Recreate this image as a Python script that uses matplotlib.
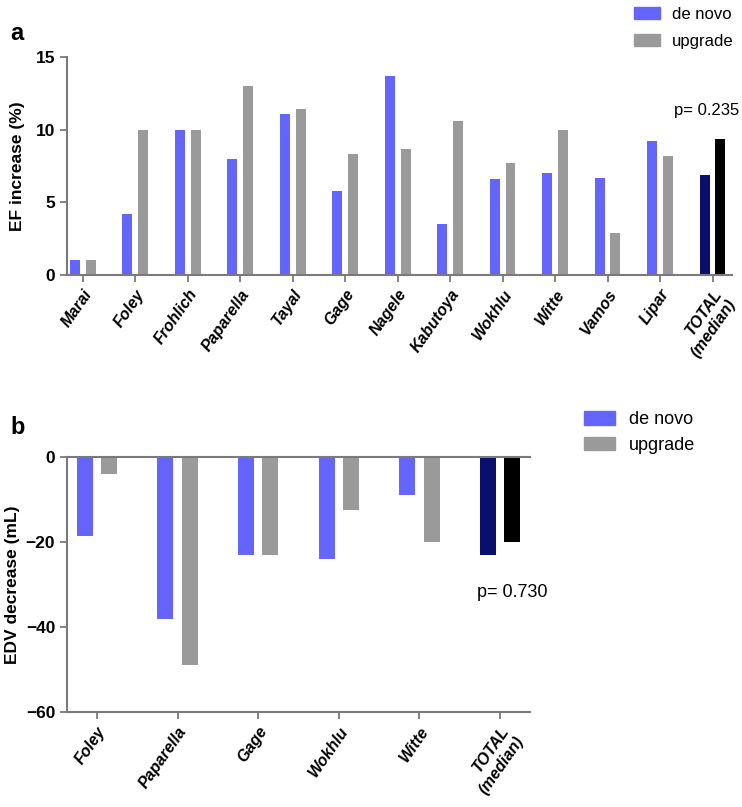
import numpy as np
import matplotlib
matplotlib.use("Agg")
from matplotlib import pyplot as plt
from matplotlib.patches import Patch

plt.rcParams['font.family'] = ['Liberation Sans', 'DejaVu Sans']

# panel a : EF increase (%)
studiesA = ["Marai", "Foley", "Frohlich", "Paparella", "Tayal", "Gage", "Nagele",
            "Kabutoya", "Wokhlu", "Witte", "Vamos", "Lipar", "TOTAL\n(median)"]
efDeNovo = [1.0, 4.2, 10.0, 8.0, 11.1, 5.8, 13.7, 3.5, 6.6, 7.0, 6.7, 9.2, 6.85]
efUpgrade = [1.0, 10.0, 10.0, 13.0, 11.4, 8.3, 8.7, 10.6, 7.7, 10.0, 2.9, 8.2, 9.35]

# panel b : EDV decrease (mL)
studiesB = ["Foley", "Paparella", "Gage", "Wokhlu", "Witte", "TOTAL\n(median)"]
edvDeNovo = [-18.5, -38.0, -23.0, -24.0, -9.0, -23.0]
edvUpgrade = [-4.0, -49.0, -23.0, -12.5, -20.0, -20.0]

blue = "#6464ff"
grey = "#9a9a9a"
navy = "#0a0f6e"
axisCol = "#7a7a7a"

fig = plt.figure(figsize=(7.42, 8.07), dpi=100)


def styleAxis(ax):
    for s in ["left", "bottom", "top"]:
        ax.spines[s].set_color(axisCol)
        ax.spines[s].set_linewidth(1.5)
    ax.spines["right"].set_visible(False)
    ax.tick_params(axis="both", colors=axisCol, width=1.3, length=5,
                   labelcolor="black")
    for lab in ax.get_yticklabels():
        lab.set_fontweight("bold")
        lab.set_fontsize(12.5)
    for lab in ax.get_xticklabels():
        lab.set_fontweight("bold")
        lab.set_fontstyle("italic")
        lab.set_fontsize(11.5)
        lab.set_rotation(55)
        lab.set_ha("right")
        lab.set_rotation_mode("anchor")


# Panel a --------------------------------------------------------------
axA = fig.add_axes([67/742, 1-275/807, 665/742, 218/807])
x = np.arange(len(studiesA))
w = 0.19
colA1 = [blue]*(len(studiesA)-1) + [navy]
colA2 = [grey]*(len(studiesA)-1) + ["black"]
axA.bar(x-0.15, efDeNovo, w, color=colA1)
axA.bar(x+0.15, efUpgrade, w, color=colA2)
axA.set_xlim(-0.3, 12.37)
axA.set_ylim(0, 15)
axA.set_yticks([0, 5, 10, 15])
axA.set_xticks(x)
axA.set_xticklabels(studiesA)
axA.spines["top"].set_visible(False)
styleAxis(axA)
axA.set_ylabel("EF increase (%)", fontsize=12.5, fontweight="bold", labelpad=8)
fig.text(739/742, 1-110/807, "p= 0.235", fontsize=12, ha="right", va="center")
fig.text(10/742, 1-33/807, "a", fontsize=17, fontweight="bold", va="center")

handles = [Patch(color=blue, label="de novo"), Patch(color=grey, label="upgrade")]
fig.legend(handles=handles, loc="upper left", bbox_to_anchor=(627/742, 1.0),
           frameon=False, fontsize=12, handlelength=1.6, handleheight=0.75,
           labelspacing=0.75, handletextpad=0.7, borderaxespad=0)

# Panel b --------------------------------------------------------------
axB = fig.add_axes([67/742, 1-712/807, 463/742, 255/807])
xb = np.arange(len(studiesB))
wb = 0.2
colB1 = [blue]*(len(studiesB)-1) + [navy]
colB2 = [grey]*(len(studiesB)-1) + ["black"]
axB.bar(xb-0.15, edvDeNovo, wb, color=colB1)
axB.bar(xb+0.15, edvUpgrade, wb, color=colB2)
axB.set_xlim(-0.37, 5.37)
axB.set_ylim(-60, 0)
axB.set_yticks([-60, -40, -20, 0])
axB.set_xticks(xb)
axB.set_xticklabels(studiesB)
styleAxis(axB)
axB.tick_params(axis="x", top=False)
axB.set_ylabel("EDV decrease (mL)", fontsize=12.5, fontweight="bold", labelpad=4)
axB.text(5.15, -31.8, "p= 0.730", fontsize=13, ha="center", va="center")
fig.text(10/742, 1-428/807, "b", fontsize=17, fontweight="bold", va="center")

handlesB = [Patch(color=blue, label="de novo"), Patch(color=grey, label="upgrade")]
fig.legend(handles=handlesB, loc="upper left", bbox_to_anchor=(577/742, 1-404/807),
           frameon=False, fontsize=13, handlelength=1.7, handleheight=0.8,
           labelspacing=0.45, handletextpad=0.8, borderaxespad=0)

fig.savefig("out.png", dpi=100)
